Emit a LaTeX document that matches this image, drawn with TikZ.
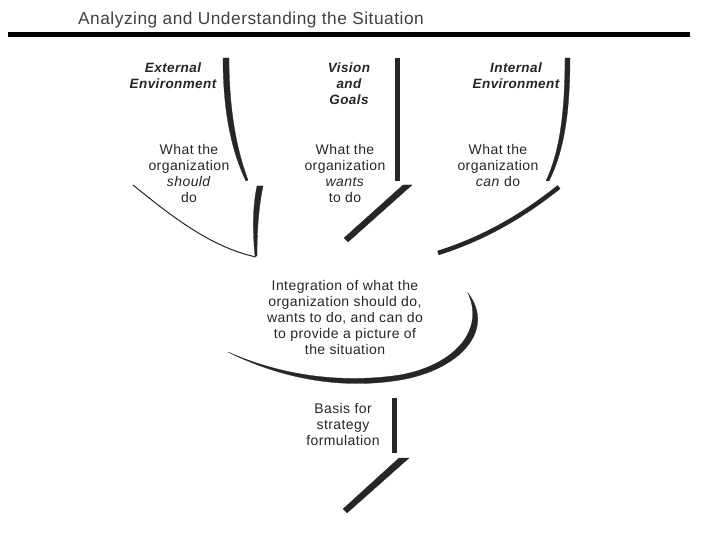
\documentclass[tikz,border=0pt]{standalone}
\usepackage{fontspec}
\setmainfont{Liberation Sans}
\newfontfamily\scanfont[LetterSpace=3]{Liberation Sans}
\usetikzlibrary{positioning}

\tikzset{
  headtext/.style={font=\scanfont\fontsize{13.5}{16}\selectfont\bfseries\itshape, align=center, inner sep=0pt, text=black!85},
  bodytext/.style={font=\scanfont\fontsize{14}{16}\selectfont, align=center, inner sep=0pt, text=black!85},
  brush/.style={fill=black!85, draw=black!85, line width=0.3pt},
}

\begin{document}
\begin{tikzpicture}[x=1pt,y=-1pt,node distance=89pt]
      \useasboundingbox (0,0) rectangle (720,540);

      % heading and rule
      \node[bodytext, font=\scanfont\fontsize{17.3}{18}\selectfont, text=black!75] (title) at (251,20) {Analyzing and Understanding the Situation};
      \draw[line width=5pt] (8,35) -- (690,35);

      % the three sources
      \node[headtext] (ext) at (173,76) {External\\Environment};
      \node[headtext] (vis) at (349,84) {Vision\\and\\Goals};
      \node[headtext] (int) at (516,76) {Internal\\Environment};

      \node[bodytext] (should) at (189,173) {What the\\organization\\\textit{should}\\do};
      \node[bodytext] (wants)  [below of=vis, xshift=-4pt] {What the\\organization\\\textit{wants}\\to do};
      \node[bodytext] (can)    at (498,165) {What the\\organization\\\textit{can} do};

      \node[bodytext] (integ) at (345,317) {Integration of what the\\organization should do,\\wants to do, and can do\\to provide a picture of\\the situation};
      \node[bodytext] (basis) at (343,424) {Basis for\\strategy\\formulation};

      % external environment arrow
      \fill[brush] (223,58) .. controls (223,110) and (231,150) .. (246,181)
                   -- (248,180) .. controls (236,148) and (229,108) .. (229,58) -- cycle;
      \fill[brush] (257,186) .. controls (252,210) and (253,235) .. (255,256)
                   -- (257,256) .. controls (257,235) and (258,210) .. (263,186) -- cycle;
      \draw[line width=1pt, black!85] (133,185) .. controls (170,215) and (210,247) .. (256,257);

      % vision and goals arrow
      \fill[brush] (395,58) rectangle (399,180);
      \fill[brush] (403,185) -- (412,185) -- (348,242) -- (344,238) -- cycle;

      % internal environment arrow
      \fill[brush] (565,58) .. controls (565,120) and (558,155) .. (546,181)
                   -- (549,181) .. controls (562,155) and (570,120) .. (570,58) -- cycle;
      \draw[black!85, line width=4.5pt] (559,187) .. controls (520,218) and (482,239) .. (438,253);

      % integration
      \fill[brush] (228,352) .. controls (280,378) and (340,390) .. (400,380)
                   .. controls (460,370) and (496,330) .. (468,293)
                   .. controls (485,330) and (455,365) .. (400,375)
                   .. controls (340,384) and (280,375) .. (228,352) -- cycle;

      % basis for strategy formulation
      \fill[brush] (392,398) rectangle (396,452);
      \fill[brush] (399,458) -- (409,458) -- (347,513) -- (343,509) -- cycle;
\end{tikzpicture}
\end{document}
